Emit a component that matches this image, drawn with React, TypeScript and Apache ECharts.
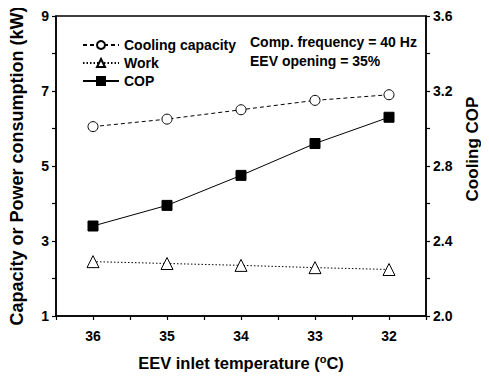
import React, { useEffect, useRef } from "react";
import * as echarts from "echarts";

const temps = [36, 35, 34, 33, 32];
const coolingCapacity = [6.05, 6.25, 6.5, 6.75, 6.9];
const work = [2.45, 2.4, 2.35, 2.29, 2.24];
const cop = [2.48, 2.59, 2.75, 2.92, 3.06];
const seriesNames = ["Cooling capacity", "Work", "COP"];
const noteLines = ["Comp. frequency = 40 Hz", "EEV opening = 35%"];
const rightTitle = "Cooling COP";

const FONT = "Liberation Sans, Arial, sans-serif";
const NARROW = "Liberation Sans Narrow, Arial Narrow, Liberation Sans, sans-serif";

export default function App() {
  const ref = useRef<HTMLDivElement>(null);
  useEffect(() => {
    if (!ref.current) return;
    const chart = echarts.init(ref.current, null, { renderer: "svg" });
    const pair = (vals: number[]) => temps.map((t, i) => [t, vals[i]]);
    const axisLine = { lineStyle: { color: "#000", width: 1.5 } };
    const tick = { show: true, inside: false, length: 4, lineStyle: { color: "#000", width: 1.2 } };
    const label = { color: "#000", fontFamily: FONT, fontWeight: "bold", fontSize: 14 };
    const nameStyle = { color: "#000", fontFamily: FONT, fontWeight: "bold", fontSize: 16 };
    chart.setOption({
      animation: false,
      backgroundColor: "#fff",
      grid: { left: 56, right: 59, top: 16, height: 302, show: true, borderColor: "#000", borderWidth: 1.5, backgroundColor: "transparent" },
      legend: {
        orient: "vertical",
        left: 77,
        top: 33,
        itemWidth: 36,
        itemHeight: 10,
        itemGap: 4,
        data: seriesNames,
        textStyle: { color: "#000", fontFamily: FONT, fontWeight: "bold", fontSize: 14 },
      },
      xAxis: {
        type: "value",
        inverse: true,
        min: 31.5,
        max: 36.5,
        interval: 0.5,
        splitLine: { show: false },
        axisLine,
        axisTick: tick,
        axisLabel: {
          ...label,
          margin: 13,
          formatter: (v: number) => (Number.isInteger(v) ? String(v) : ""),
        },
        name: "EEV inlet temperature ({sup|o}C)",
        nameLocation: "middle",
        nameGap: 37,
        nameTextStyle: {
          ...nameStyle,
          fontSize: 16.5,
          rich: { sup: { ...nameStyle, fontSize: 11, verticalAlign: "top", padding: [0, 0, 8, 0] } },
        },
      },
      yAxis: [
        {
          type: "value",
          min: 1,
          max: 9,
          interval: 2,
          splitLine: { show: false },
          axisLine,
          axisTick: tick,
          minorTick: { show: true, splitNumber: 2, length: 4, lineStyle: { color: "#000", width: 1.2 } },
          axisLabel: { ...label, margin: 7 },
          name: "Capacity or Power consumption (kW)",
          nameLocation: "middle",
          nameGap: 30,
          nameTextStyle: { ...nameStyle, fontSize: 18 },
        },
        {
          type: "value",
          min: 2.0,
          max: 3.6,
          interval: 0.4,
          splitLine: { show: false },
          axisLine,
          axisTick: tick,
          minorTick: { show: true, splitNumber: 2, length: 4, lineStyle: { color: "#000", width: 1.2 } },
          axisLabel: { ...label, margin: 7, formatter: (v: number) => v.toFixed(1) },
          name: rightTitle,
          nameLocation: "middle",
          nameRotate: 90,
          nameGap: 38,
          nameTextStyle: { ...nameStyle, fontFamily: NARROW, fontSize: 17, padding: [0, 0, 0, 34] },
        },
      ],
      series: [
        {
          name: seriesNames[0],
          type: "line",
          yAxisIndex: 0,
          data: pair(coolingCapacity),
          symbol: "circle",
          symbolSize: 10,
          itemStyle: { color: "#fff", borderColor: "#000", borderWidth: 1 },
          lineStyle: { color: "#000", width: 1, type: [4, 3] },
        },
        {
          name: seriesNames[1],
          type: "line",
          yAxisIndex: 0,
          data: pair(work),
          symbol: "triangle",
          symbolSize: 12,
          itemStyle: { color: "#fff", borderColor: "#000", borderWidth: 1 },
          lineStyle: { color: "#000", width: 1, type: [1.5, 2] },
        },
        {
          name: seriesNames[2],
          type: "line",
          yAxisIndex: 1,
          data: pair(cop),
          symbol: "rect",
          symbolSize: 10,
          itemStyle: { color: "#000", borderColor: "#000", borderWidth: 1 },
          lineStyle: { color: "#000", width: 1 },
        },
      ],
      graphic: noteLines.map((t, i) => ({
        type: "text",
        left: 250,
        top: 35 + i * 19,
        style: { text: t, fill: "#000", font: `bold 14px ${FONT}` },
      })),
    });
    return () => chart.dispose();
  }, []);
  return <div ref={ref} style={{ width: 489, height: 376, marginLeft: -8, marginTop: -8 }} />;
}
